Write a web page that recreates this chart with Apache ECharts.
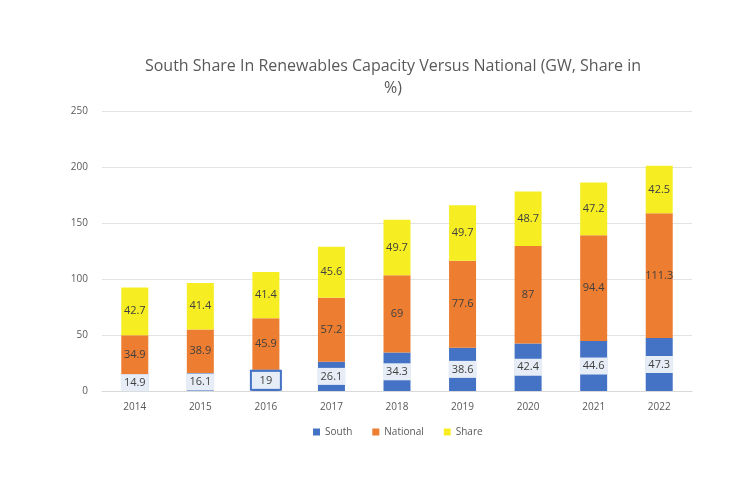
<!DOCTYPE html>
<html>
<head>
<meta charset="utf-8">
<script src="https://cdn.jsdelivr.net/npm/echarts@6/dist/echarts.min.js"></script>
<style>
  html, body { margin: 0; padding: 0; background: #fff; }
  #chart { width: 744px; height: 480px; }
</style>
</head>
<body>
<div id="chart"></div>
<script>
const years = ['2014', '2015', '2016', '2017', '2018', '2019', '2020', '2021', '2022'];
const south = [14.9, 16.1, 19, 26.1, 34.3, 38.6, 42.4, 44.6, 47.3];
const national = [34.9, 38.9, 45.9, 57.2, 69, 77.6, 87, 94.4, 111.3];
const share = [42.7, 41.4, 41.4, 45.6, 49.7, 49.7, 48.7, 47.2, 42.5];

const textColor = '#404040';
const fontFamily = '"Open Sans", "Noto Sans", sans-serif';

// the 2016 label has a blue frame in the original
const southData = south.map((v, i) => i === 2
  ? { value: v, label: { borderColor: '#4472C4', borderWidth: 2 } }
  : v);

const myChart = echarts.init(document.getElementById('chart'));

const option = {
  backgroundColor: '#fff',
  textStyle: { fontFamily: fontFamily },
  title: {
    text: 'South Share In Renewables Capacity Versus National (GW, Share in\n%)',
    left: 388,
    textAlign: 'center',
    top: 50,
    textStyle: {
      fontSize: 16,
      fontWeight: 'normal',
      color: '#595959',
      lineHeight: 22,
      fontFamily: fontFamily
    }
  },
  legend: {
    bottom: 38,
    left: 308,
    itemWidth: 7,
    itemHeight: 7,
    itemGap: 20,
    icon: 'rect',
    textStyle: { fontSize: 10, color: '#595959' },
    data: ['South', 'National', 'Share']
  },
  grid: {
    left: 102,
    right: 52,
    top: 111,
    bottom: 89
  },
  xAxis: {
    type: 'category',
    data: years,
    axisTick: { show: false },
    axisLine: { lineStyle: { color: '#d9d9d9' } },
    axisLabel: { color: '#595959', fontSize: 10, margin: 11 }
  },
  yAxis: {
    type: 'value',
    min: 0,
    max: 250,
    interval: 50,
    axisLine: { show: false },
    axisTick: { show: false },
    axisLabel: { color: '#595959', fontSize: 10, margin: 14 },
    splitLine: { lineStyle: { color: '#e3e3e3' } }
  },
  series: [
    {
      name: 'South',
      type: 'bar',
      stack: 'total',
      barWidth: 27,
      itemStyle: { color: '#4472C4' },
      label: {
        show: true,
        position: 'inside',
        color: textColor,
        fontSize: 11,
        backgroundColor: '#E6EDF6',
        padding: [3, 3],
        width: 22,
        align: 'center'
      },
      data: southData
    },
    {
      name: 'National',
      type: 'bar',
      stack: 'total',
      itemStyle: { color: '#ED7D31' },
      label: { show: true, position: 'inside', color: textColor, fontSize: 11 },
      data: national
    },
    {
      name: 'Share',
      type: 'bar',
      stack: 'total',
      itemStyle: { color: '#F6EE22' },
      label: { show: true, position: 'inside', color: textColor, fontSize: 11 },
      data: share
    }
  ]
};

myChart.setOption(option, true);
</script>
</body>
</html>
